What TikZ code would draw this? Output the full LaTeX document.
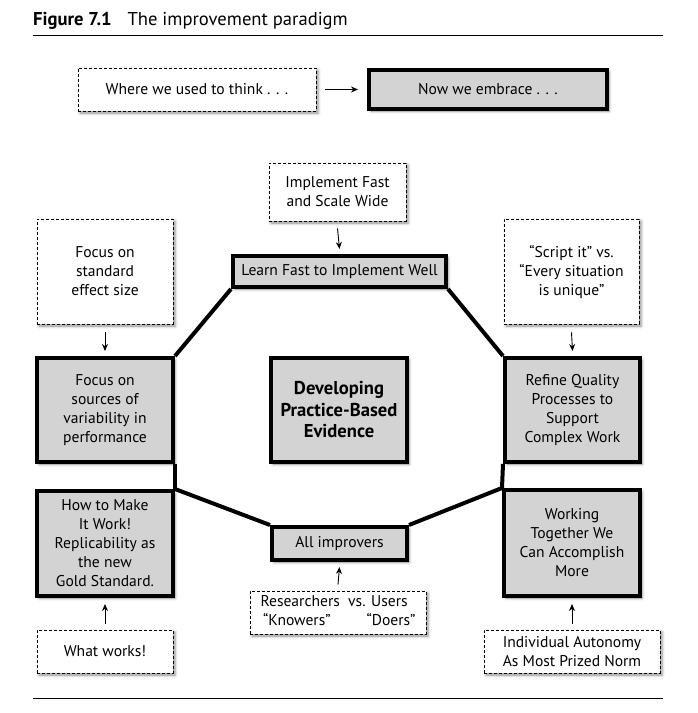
\documentclass[tikz,border=0pt]{standalone}
\usepackage{fontspec}
\setmainfont{PT Sans}
\usetikzlibrary{arrows.meta,shadows.blur}
\definecolor{boxgray}{RGB}{211,211,211}
\tikzset{
  txt/.style={font=\fontsize{15.6pt}{19pt}\selectfont, align=center, inner sep=0pt},
  dbox/.style={txt, draw, line width=0.8pt, dash pattern=on 3pt off 2pt, fill=white,
    blur shadow={shadow xshift=2pt, shadow yshift=-2pt, shadow blur radius=3pt, shadow opacity=45}},
  tbox/.style={txt, draw, line width=4pt, fill=boxgray,
    blur shadow={shadow xshift=2pt, shadow yshift=-2pt, shadow blur radius=3pt, shadow opacity=45}},
  conn/.style={line width=4pt},
  arr/.style={line width=0.9pt, -{Stealth[length=7pt,width=6pt]}},
}
\begin{document}
\begin{tikzpicture}[x=1pt,y=-1pt]
\useasboundingbox (0,0) rectangle (698,713);
% title
\node[anchor=base west, inner sep=0pt, font=\fontsize{18.6pt}{21pt}\selectfont] (title) at (33,25)
  {\textbf{Figure 7.1}\hspace{0.85em}The improvement paradigm};
\coordinate (r1a) at (33,35); \coordinate (r1b) at (663,35);
\draw[line width=1pt] (r1a) -- (r1b);
\coordinate (r2a) at (33,698); \coordinate (r2b) at (663,698);
\draw[line width=1pt] (r2a) -- (r2b);

% top legend
\node[dbox, minimum width=238pt, minimum height=43pt] (used) at (197,89.5) {Where we used to think . . .};
\node[tbox, minimum width=238pt, minimum height=39pt] (now) at (488,89.5) {Now we embrace . . .};
\draw[arr] ([xshift=9pt]used.east) -- ([xshift=-9pt]now.west);

% dashed boxes
\node[dbox, minimum width=137pt, minimum height=58pt] (impl) at (337.5,192) {Implement Fast\\and Scale Wide};
\node[dbox, minimum width=136pt, minimum height=105pt] (std) at (105,271.5) {Focus on\\standard\\effect size};
\node[dbox, minimum width=135pt, minimum height=105pt] (script) at (571.5,271.5) {“Script it” vs.\\“Every situation\\is unique”};
\node[dbox, minimum width=136pt, minimum height=43pt] (what) at (105,651.5) {What works!};
\node[dbox, minimum width=176pt, minimum height=43pt] (res) at (338,612.5)
  {\begin{tabular}{@{}l@{}}Researchers\ \ vs. Users\\ \,“Knowers”\hspace{2.3em}“Doers”\end{tabular}};
\node[dbox, minimum width=176pt, minimum height=43pt] (auto) at (572,651.5) {Individual Autonomy\\As Most Prized Norm};

% thick boxes
\node[tbox, minimum width=213pt, minimum height=31pt] (learn) at (339.5,271.5) {Learn Fast to Implement Well};
\node[tbox, minimum width=136pt, minimum height=104pt] (src) at (105,410) {Focus on\\sources of\\variability in\\performance};
\node[tbox, minimum width=136pt, minimum height=104pt, font=\bfseries\fontsize{18.6pt}{21.5pt}\selectfont] (dev) at (339,410) {Developing\\Practice-Based\\Evidence};
\node[tbox, minimum width=135pt, minimum height=104pt] (ref) at (572.5,410) {Refine Quality\\Processes to\\Support\\Complex Work};
\node[tbox, minimum width=136pt, minimum height=105pt] (how) at (105,543.5) {How to Make\\It Work!\\Replicability as\\the new\\Gold Standard.};
\node[tbox, minimum width=135pt, minimum height=33pt] (all) at (339.5,543.5) {All improvers};
\node[tbox, minimum width=136pt, minimum height=106pt] (work) at (572,543) {Working\\Together We\\Can Accomplish\\More};

% connectors
\draw[conn] (learn.south west) -- (src.north east);
\draw[conn] (learn.south east) -- (ref.north west);
\draw[conn] (src.south east) -- (how.north east);
\draw[conn] (ref.south west) -- (work.north west);
\draw[conn] (how.north east) -- (all.north west);
\draw[conn] (all.north east) -- (work.north west);

% arrows
\draw[arr] ([yshift=-7pt]impl.south) -- ([yshift=5pt]learn.north);
\draw[arr] ([yshift=-8pt]std.south) -- ([yshift=5pt]src.north);
\draw[arr] ([yshift=-8pt]script.south) -- ([yshift=5pt]ref.north);
\draw[arr] ([yshift=6pt]what.north) -- ([yshift=-6pt]how.south);
\draw[arr] ([yshift=6pt]res.north) -- ([yshift=-5pt]all.south);
\draw[arr] ([yshift=6pt]auto.north) -- ([yshift=-6pt]work.south);
\end{tikzpicture}
\end{document}
